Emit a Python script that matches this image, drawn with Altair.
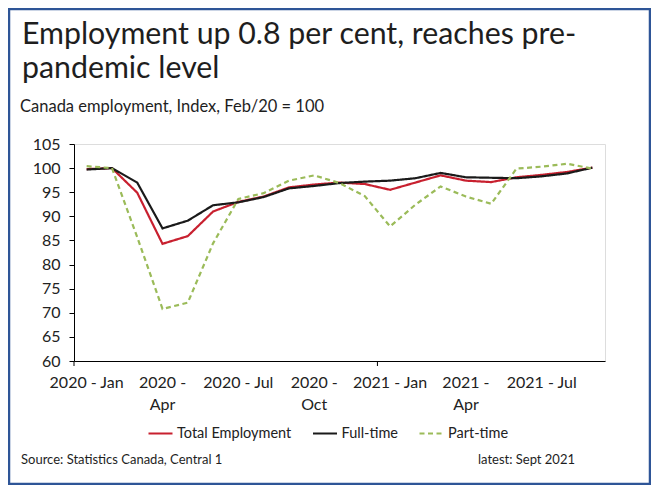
import altair as alt
import pandas as pd

months = [
    "2020 - Jan", "2020 - Feb", "2020 - Mar", "2020 - Apr", "2020 - May", "2020 - Jun",
    "2020 - Jul", "2020 - Aug", "2020 - Sep", "2020 - Oct", "2020 - Nov", "2020 - Dec",
    "2021 - Jan", "2021 - Feb", "2021 - Mar", "2021 - Apr", "2021 - May", "2021 - Jun",
    "2021 - Jul", "2021 - Aug", "2021 - Sep",
]
total_employment = [99.8, 100.0, 94.9, 84.3, 85.9, 91.0, 93.0, 94.1, 96.0, 96.6, 97.0,
                    96.7, 95.5, 97.0, 98.5, 97.4, 97.1, 98.1, 98.6, 99.2, 100.1]
full_time = [99.7, 100.0, 97.0, 87.5, 89.1, 92.3, 92.9, 94.0, 95.8, 96.3, 96.9,
             97.2, 97.4, 97.9, 99.0, 98.1, 98.0, 97.9, 98.3, 98.9, 100.1]
part_time = [100.4, 100.0, 85.7, 70.8, 72.1, 84.4, 93.6, 94.8, 97.4, 98.5, 96.9,
             94.2, 87.9, 92.4, 96.2, 94.1, 92.6, 99.9, 100.3, 100.9, 99.9]
series_names = ["Total Employment", "Full-time", "Part-time"]
series_colors = ["#C8202F", "#1A1A1A", "#9BBB59"]
label_months = ["2020 - Jan", "2020 - Apr", "2020 - Jul", "2020 - Oct",
                "2021 - Jan", "2021 - Apr", "2021 - Jul"]
tick_months = ["2020 - Jan", "2021 - Jan"]
y_ticks = [60, 65, 70, 75, 80, 85, 90, 95, 100, 105]

title_line1 = "Employment up 0.8 per cent, reaches pre-"
title_line2 = "pandemic level"
subtitle = "Canada employment, Index, Feb/20 = 100"
source = "Source: Statistics Canada, Central 1"
latest = "latest: Sept 2021"

FONT = "Lato"
W, H = 531, 217

rows = []
for name, vals in zip(series_names, [total_employment, full_time, part_time]):
    for m, v in zip(months, vals):
        rows.append({"month": m, "series": name, "value": v})
df = pd.DataFrame(rows)

x_axis = alt.Axis(
    title=None, values=label_months, ticks=False, domainColor="#000000",
    labelFont=FONT, labelFontSize=16, labelColor="#222222", labelAngle=0,
    labelPadding=13, labelLineHeight=22, labelOverlap=False, labelBound=False,
    labelFlush=False, grid=False,
    labelExpr="indexof(['2020 - Apr','2020 - Oct','2021 - Apr'], datum.value) >= 0 ? "
              "[slice(datum.value, 0, 6), slice(datum.value, 7)] : datum.value",
)
x_scale = alt.Scale(type="band", domain=months, paddingInner=0, paddingOuter=0)
y_axis = alt.Axis(
    title=None, values=y_ticks, tickSize=5, tickColor="#000000", domainColor="#000000",
    labelFont=FONT, labelFontSize=16, labelColor="#222222", labelPadding=9, grid=False,
)
color_scale = alt.Scale(domain=series_names, range=series_colors)
dash_scale = alt.Scale(domain=series_names, range=[[1, 0], [1, 0], [5, 3.5]])
legend = alt.Legend(
    title=None, orient="none", legendX=73, legendY=276, direction="horizontal",
    symbolType="stroke", symbolSize=576, symbolStrokeWidth=2.2, labelFont=FONT,
    labelFontSize=14.5, labelColor="#222222", labelOffset=3, columnPadding=16.5, padding=0,
)

def series_layer(name):
    return alt.Chart(df).transform_filter(alt.datum.series == name).mark_line(
        strokeWidth=2.2
    ).encode(
        x=alt.X("month:O", scale=x_scale, sort=months, axis=x_axis, bandPosition=0.5),
        y=alt.Y("value:Q", scale=alt.Scale(domain=[60, 105], nice=False, zero=False), axis=y_axis),
        color=alt.Color("series:N", scale=color_scale, legend=legend),
        strokeDash=alt.StrokeDash("series:N", scale=dash_scale, legend=legend),
    )

ticks = alt.Chart(pd.DataFrame({"month": tick_months})).mark_rule(
    color="#000000", strokeWidth=1
).encode(
    x=alt.X("month:O", scale=x_scale, sort=months, axis=x_axis, bandPosition=0),
    y=alt.value(H),
    y2=alt.value(H + 5),
)

one = pd.DataFrame({"k": [0]})

def text_layer(txt, x, y, size, align="left"):
    return alt.Chart(one).mark_text(
        text=txt, align=align, baseline="alphabetic", font=FONT, fontSize=size,
        color="#1E1E1E",
    ).encode(x=alt.value(x), y=alt.value(y))

frame = alt.Chart(one).mark_rect(
    fill="transparent", stroke="#2E5597", strokeWidth=2.5
).encode(
    x=alt.value(-65), x2=alt.value(W + 45), y=alt.value(-135), y2=alt.value(H + 123)
)

chart = alt.layer(
    frame,
    series_layer("Total Employment"),
    series_layer("Full-time"),
    series_layer("Part-time"),
    ticks,
    text_layer(title_line1, -52, -99.7, 30.3),
    text_layer(title_line2, -52, -65.7, 30.3),
    text_layer(subtitle, -54, -32.3, 16.5),
    text_layer(source, -53, 320.3, 13),
    text_layer(latest, 501, 320.3, 13, align="right"),
).properties(
    width=W, height=H,
    autosize=alt.AutoSizeParams(type="none"),
    padding={"left": 66, "top": 136, "right": 46, "bottom": 124},
).configure_view(stroke=None).configure(background="white")

chart.save("out.html", embed_options={"renderer": "svg", "actions": False})
